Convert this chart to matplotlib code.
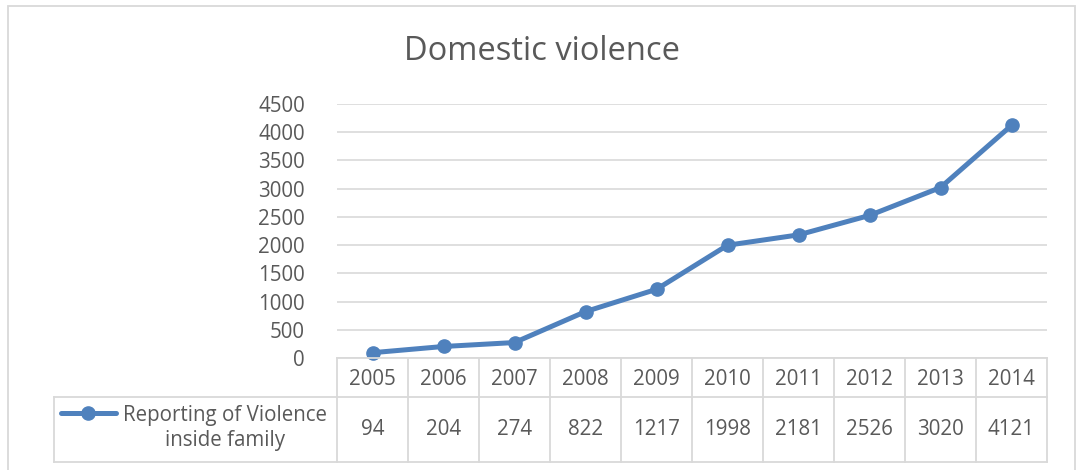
import matplotlib.pyplot as plt
from matplotlib.lines import Line2D
from matplotlib.patches import Rectangle

# Chart data
years = ["2005", "2006", "2007", "2008", "2009", "2010", "2011", "2012", "2013", "2014"]
reports = [94, 204, 274, 822, 1217, 1998, 2181, 2526, 3020, 4121]
series_name = "Reporting of Violence\ninside family"
title = "Domestic violence"
y_ticks = [0, 500, 1000, 1500, 2000, 2500, 3000, 3500, 4000, 4500]

plt.rcParams["font.family"] = ["Open Sans", "DejaVu Sans"]
TEXT = "#595959"
GRID = "#d9d9d9"
BLUE = "#4f81bd"
FS = 14.8

W, H = 1076, 470
fig = plt.figure(figsize=(W / 100, H / 100), dpi=100)

def fx(px):
    return px / W

def fy(py):
    return 1 - py / H

# outer chart border
fig.patches.append(Rectangle((fx(8), fy(475)), fx(1075 - 8), (475 - 6) / H,
                             transform=fig.transFigure, fill=False,
                             edgecolor=GRID, lw=1.3))

# plot area
left, right, top, zero = 337, 1047, 104, 358
ax = fig.add_axes([fx(left), fy(zero), fx(right - left), (zero - top) / H])
x = list(range(len(years)))
ax.plot(x, reports, color=BLUE, lw=3.6, marker="o", markersize=9.5,
        solid_capstyle="round", zorder=3, clip_on=False)
ax.set_xlim(-0.5, len(years) - 0.5)
ax.set_ylim(0, 4500)
ax.set_yticks(y_ticks)
ax.set_yticklabels([str(v) for v in y_ticks])
ax.tick_params(axis="y", length=0, pad=23, labelsize=FS, labelcolor=TEXT)
ax.set_xticks([])
ax.grid(axis="y", color=GRID, lw=1.2)
ax.set_axisbelow(True)
for s in ax.spines.values():
    s.set_visible(False)

fig.text(fx(542), fy(51), title, ha="center", va="center",
         fontsize=23.5, color=TEXT)

# data table beneath
tbl_bottom, hdr_bottom = 462, 397
tax = fig.add_axes([fx(left), fy(tbl_bottom), fx(right - left), (tbl_bottom - zero) / H])
tax.set_xlim(-0.5, len(years) - 0.5)
tax.set_ylim(0, 1)
tax.axis("off")
split = (tbl_bottom - hdr_bottom) / (tbl_bottom - zero)
for i in range(len(years) + 1):
    tax.plot([i - 0.5, i - 0.5], [0, 1], color=GRID, lw=1.3, clip_on=False)
tax.plot([-0.5, len(years) - 0.5], [1, 1], color=GRID, lw=1.3, clip_on=False)
for i, (yr, v) in enumerate(zip(years, reports)):
    tax.text(i, (1 + split) / 2 - 0.02, yr, ha="center", va="center", fontsize=FS, color=TEXT)
    tax.text(i, split / 2, str(v), ha="center", va="center", fontsize=FS, color=TEXT)

# horizontal lines of the data row extend into the legend cell
leg_left = 54
for py in (hdr_bottom, tbl_bottom):
    fig.add_artist(Line2D([fx(leg_left), fx(right)], [fy(py), fy(py)],
                          transform=fig.transFigure, color=GRID, lw=1.3))
fig.add_artist(Line2D([fx(leg_left), fx(leg_left)], [fy(hdr_bottom), fy(tbl_bottom)],
                      transform=fig.transFigure, color=GRID, lw=1.3))

# legend key and series name
fig.add_artist(Line2D([fx(61), fx(116)], [fy(413), fy(413)], transform=fig.transFigure,
                      color=BLUE, lw=3.6, solid_capstyle="round"))
fig.add_artist(Line2D([fx(88)], [fy(413)], transform=fig.transFigure,
                      color=BLUE, marker="o", markersize=9.5, lw=0))
fig.text(fx(225), fy(428), series_name, ha="center", va="center",
         fontsize=FS, color=TEXT, linespacing=1.25)

fig.savefig("out.png", dpi=100)
